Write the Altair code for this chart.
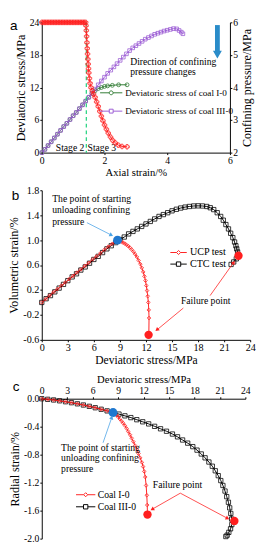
import altair as alt
import pandas as pd
import numpy as np

SERIF = "Liberation Serif"
SANS = "Liberation Sans"

RED = "#ff1f1f"
GREEN = "#2f7a32"
PURPLE = "#9b5bd4"
BLUE = "#1f78cf"
ARROWBLUE = "#2a8cc9"
LIGHTBLUE = "#4aa3e6"
STAGEGREEN = "#19d17a"

# ------------------------------------------------------------------ data (a)
a_i0_strain = [0.0, 0.1, 0.2, 0.3, 0.4, 0.5, 0.6, 0.7, 0.8, 0.9, 1.0, 1.1, 1.2, 1.3, 1.4,
               1.5, 1.6, 1.7, 1.8, 1.9, 2.0, 2.1, 2.25, 2.45, 2.72]
a_i0_stress = [0.0, 0.6, 1.3, 2.0, 2.7, 3.4, 4.1, 4.8, 5.4, 6.1, 6.8, 7.4, 8.1, 8.8, 9.5,
               10.2, 10.9, 11.4, 11.8, 12.0, 12.2, 12.3, 12.4, 12.5, 12.5]
a_iii0_strain = [0.0, 0.1, 0.2, 0.3, 0.4, 0.5, 0.6, 0.7, 0.8, 0.9, 1.0, 1.1, 1.2, 1.3, 1.4,
                 1.5, 1.6, 1.7, 1.8, 1.9, 2.0, 2.1, 2.2, 2.3, 2.4,
                 2.5, 2.6, 2.7, 2.8, 2.9, 3.0, 3.1, 3.2, 3.3, 3.4,
                 3.5, 3.6, 3.7, 3.8, 3.9, 4.0, 4.1, 4.2, 4.3, 4.38, 4.45, 4.5]
a_iii0_stress = [0.0, 0.6, 1.3, 2.0, 2.7, 3.4, 4.1, 4.8, 5.4, 6.1, 6.8, 7.4, 8.1, 8.8, 9.5,
                 10.2, 10.9, 11.7, 12.5, 13.2, 13.9, 14.6, 15.2, 15.8, 16.4,
                 17.0, 17.6, 18.2, 18.8, 19.3, 19.7, 20.1, 20.5, 20.9, 21.2,
                 21.5, 21.8, 22.0, 22.2, 22.4, 22.55, 22.7, 22.85, 22.8, 22.5, 22.2, 21.9]
a_cp_strain = [0.0, 0.05, 0.1, 0.15, 0.2, 0.25, 0.3, 0.35, 0.4, 0.45, 0.5, 0.55, 0.6, 0.65,
               0.7, 0.75, 0.8, 0.85, 0.9, 0.95, 1.0, 1.05, 1.1, 1.15, 1.2, 1.25, 1.3, 1.35,
               1.4, 1.41, 1.42, 1.43, 1.44, 1.45, 1.46, 1.47, 1.48, 1.49, 1.5, 1.52, 1.54,
               1.57, 1.61, 1.65, 1.7, 1.75, 1.8, 1.85, 1.9, 1.95, 2.0, 2.06, 2.12, 2.19,
               2.26, 2.34, 2.44, 2.56, 2.72]
a_cp_pressure = [6.0] * 28 + [6.0, 5.9, 5.75, 5.57, 5.38, 5.2, 5.03, 4.87, 4.72, 4.58, 4.45,
                              4.28, 4.13, 4.0, 3.9, 3.8, 3.7, 3.56, 3.42, 3.27, 3.12, 2.98,
                              2.85, 2.72, 2.6, 2.48, 2.38, 2.3, 2.23, 2.19, 2.18]
a_stage_strain = [1.42]
a_note_x = [2.82, 2.82]
a_note_y = [16.65, 14.75]
a_note_text = ["Direction of confining", "pressure changes"]
a_arrow_x = [5.6]
a_arrow_top = [23.5]
a_arrow_neck = [18.7]
a_arrow_head = [18.05]

# ------------------------------------------------------------------ data (b)
b_ucp_stress = [0.0, 0.45, 0.9, 1.35, 1.8, 2.25, 2.7, 3.15, 3.6, 4.05, 4.5, 4.95, 5.4, 5.85,
                6.3, 6.75, 7.2, 7.65, 8.1, 8.5, 8.75, 8.95, 9.15, 9.35, 9.55, 9.75, 9.95,
                10.15, 10.35, 10.55, 10.75, 10.95, 11.15, 11.35, 11.52, 11.68, 11.82, 11.94,
                12.04, 12.12, 12.2, 12.27, 12.32, 12.35, 12.33]
b_ucp_vol = [0.0, 0.055, 0.11, 0.165, 0.215, 0.27, 0.32, 0.375, 0.425, 0.48, 0.53, 0.585,
             0.635, 0.69, 0.74, 0.79, 0.845, 0.895, 0.94, 0.975, 1.0, 0.99, 0.975, 0.96, 0.945,
             0.925, 0.905, 0.88, 0.85, 0.815, 0.775, 0.73, 0.675, 0.615, 0.555, 0.49, 0.42,
             0.35, 0.27, 0.19, 0.1, 0.0, -0.12, -0.25, -0.5]
b_ctc_stress = [0.0, 0.5, 1.0, 1.5, 2.0, 2.5, 3.0, 3.5, 4.0, 4.5, 5.0, 5.5, 6.0, 6.5, 7.0, 7.5,
                8.0, 8.5, 9.0, 9.5, 10.0, 10.5, 11.0, 11.5, 12.0, 12.5, 13.0, 13.5, 14.0, 14.5,
                15.0, 15.5, 16.0, 16.5, 17.0, 17.5, 18.0, 18.5, 19.0, 19.4, 19.8, 20.2, 20.6,
                20.9, 21.2, 21.5, 21.75, 22.0, 22.2, 22.35, 22.45, 22.55, 22.6, 22.4, 22.1, 21.8]
b_ctc_vol = [0.0, 0.06, 0.11, 0.17, 0.23, 0.29, 0.35, 0.41, 0.46, 0.52, 0.57, 0.63, 0.69,
             0.74, 0.8, 0.86, 0.91, 0.96, 1.01, 1.05, 1.1, 1.14, 1.18, 1.22, 1.26, 1.3, 1.34,
             1.38, 1.41, 1.44, 1.47, 1.495, 1.515, 1.53, 1.54, 1.548, 1.55, 1.548, 1.54,
             1.52, 1.49, 1.44, 1.38, 1.32, 1.25, 1.18, 1.11, 1.04, 0.97, 0.91, 0.86, 0.81,
             0.76, 0.7, 0.65, 0.61]
b_fail_x = [12.3, 22.65]
b_fail_y = [-0.52, 0.75]
b_start_x = [8.72]
b_start_y = [1.0]
b_note_x = [1.2, 1.2, 1.2]
b_note_y = [1.657, 1.477, 1.297]
b_note_text = ["The point of starting", "unloading confining", "pressure"]
b_fail_label = ["Failure point"]
b_fail_label_x = [18.87]
b_fail_label_y = [0.015]
b_blue_arrow = ([5.2], [1.28], [8.31], [1.06])
b_red_arrows = ([16.3, 19.38], [-0.09, 0.11], [13.0, 22.29], [-0.47, 0.68])

# ------------------------------------------------------------------ data (c)
c_i0_stress = [0.0, 0.7, 1.4, 2.1, 2.8, 3.5, 4.2, 4.9, 5.6, 6.3, 7.0, 7.7, 8.4, 8.6, 8.8, 9.0,
               9.2, 9.4, 9.6, 9.8, 10.0, 10.2, 10.4, 10.6, 10.8, 11.0, 11.2, 11.4, 11.6, 11.8,
               11.95, 12.08, 12.2, 12.3, 12.38, 12.43, 12.46]
c_i0_radial = [0.0, -0.009, -0.018, -0.03, -0.043, -0.057, -0.073, -0.09, -0.109, -0.129,
               -0.151, -0.174, -0.198, -0.215, -0.235, -0.26, -0.29, -0.32, -0.35, -0.385,
               -0.425, -0.47, -0.515, -0.565, -0.615, -0.67, -0.725, -0.785, -0.845, -0.91,
               -0.97, -1.04, -1.12, -1.24, -1.38, -1.52, -1.656]
c_iii0_stress = [0.0, 0.7, 1.4, 2.1, 2.8, 3.5, 4.2, 4.9, 5.6, 6.3, 7.0, 7.7, 8.4, 9.1, 9.8,
                 10.5, 11.2, 11.9, 12.6, 13.3, 14.0, 14.7, 15.4, 16.0, 16.6, 17.2, 17.8, 18.3,
                 18.8, 19.25, 19.7, 20.1, 20.45, 20.8, 21.1, 21.35, 21.6, 21.8, 22.0, 22.15,
                 22.28, 22.38, 22.4, 22.25, 22.05, 21.85, 21.7]
c_iii0_radial = [0.0, -0.009, -0.018, -0.03, -0.043, -0.057, -0.073, -0.09, -0.109, -0.129,
                 -0.151, -0.174, -0.198, -0.22, -0.245, -0.27, -0.3, -0.33, -0.36, -0.395,
                 -0.43, -0.465, -0.505, -0.545, -0.59, -0.635, -0.685, -0.735, -0.79, -0.845,
                 -0.905, -0.965, -1.03, -1.1, -1.17, -1.24, -1.32, -1.4, -1.48, -1.56, -1.64,
                 -1.72, -1.8, -1.86, -1.91, -1.95, -1.97]
c_fail_x = [12.46, 22.7]
c_fail_y = [-1.656, -1.747]
c_start_x = [8.4]
c_start_y = [-0.198]
c_note_x = [2.28, 2.28, 2.28]
c_note_y = [-0.70, -0.855, -1.0]
c_note_text = ["The point of starting", "unloading confining", "pressure"]
c_fail_label = ["Failure point"]
c_fail_label_x = [16.0]
c_fail_label_y = [-1.24]
c_blue_arrow = ([7.22], [-0.63], [8.36], [-0.23])
c_red_arrows = ([16.33, 16.33], [-1.35, -1.35], [12.72, 22.2], [-1.6, -1.73])

# ------------------------------------------------------------------ sizes
WA, HA = 195, 135
WB, HB = 216, 155
WC, HC = 211, 145
XA, YA, YA2 = [0, 6], [0, 24], [2, 6]
XB, YB = [0, 24], [-0.6, 1.8]
XC, YC = [0, 24], [-2.0, 0.0]

HYPHEN = "(datum.value < 0 ? '-' : '') + format(abs(datum.value), '.1f')"


def frame(x, y, **extra):
    d = {"x": x, "y": y}
    d.update(extra)
    df = pd.DataFrame(d)
    df["i"] = range(len(df))
    return df


def make_xy(xdom, ydom, xaxis, yaxis):
    def X(f):
        return alt.X(f + ":Q", scale=alt.Scale(domain=xdom, nice=False, zero=False), axis=xaxis)

    def Y(f):
        return alt.Y(f + ":Q", scale=alt.Scale(domain=ydom, nice=False, zero=False), axis=yaxis)
    return X, Y


def sym_path(kind, half_u, m_u):
    if kind == "circle":
        mk = f"M{-m_u},0A{m_u},{m_u},0,1,1,{m_u},0A{m_u},{m_u},0,1,1,{-m_u},0Z"
        g = m_u
    elif kind == "square":
        mk = f"M{-m_u},{-m_u}H{m_u}V{m_u}H{-m_u}Z"
        g = m_u
    else:
        g = m_u * 1.2
        mk = f"M0,{-g}L{g},0L0,{g}L{-g},0Z"
    return f"M{-half_u},0H{-g}M{g},0H{half_u}" + mk


def legend(cx, cy, label_start, half_px, kind, marker_px, fs):
    k = 4.0
    c_off = 4.5
    return alt.Legend(title=None, orient="none", legendX=cx - c_off, legendY=cy - fs / 2,
                      symbolType=sym_path(kind, half_px / k, marker_px / 2 / k),
                      symbolSize=64, symbolStrokeWidth=1, symbolFillColor="white",
                      labelFont=SERIF, labelFontSize=fs, labelColor="black",
                      labelOffset=label_start - cx - c_off, padding=0, labelLimit=400)


def series(df, X, Y, chan, enc, shape, size, sw_pt=0.8, sw_line=1.0):
    line = alt.Chart(df).mark_line(strokeWidth=sw_line).encode(
        x=X("x"), y=Y("y"), order=alt.Order("i:Q"), **{chan: enc})
    pts = alt.Chart(df).mark_point(shape=shape, size=size, filled=False, strokeWidth=sw_pt,
                                   opacity=1).encode(x=X("x"), y=Y("y"), **{chan: enc})
    return [line, pts]


def arrows(spec, color, X, Y, xdom, ydom, W, H, head=6.0, sw=0.8):
    x0, y0, x1, y1 = spec
    sx = W / (xdom[1] - xdom[0])
    sy = H / (ydom[1] - ydom[0])
    rr, hh = [], []
    for a, b, c, d in zip(x0, y0, x1, y1):
        dx, dy = (c - a) * sx, -(d - b) * sy
        L = float(np.hypot(dx, dy))
        ux, uy = dx / L, dy / L
        ang = float(np.degrees(np.arctan2(ux, -uy)) % 360)
        rr.append({"x": a, "y": b, "x2": c - ux * head * 0.6 / sx, "y2": d + uy * head * 0.6 / sy})
        hh.append({"x": c - ux * head * 0.5 / sx, "y": d + uy * head * 0.5 / sy, "ang": ang})
    rule = alt.Chart(pd.DataFrame(rr)).mark_rule(color=color, strokeWidth=sw).encode(
        x=X("x"), y=Y("y"), x2="x2:Q", y2="y2:Q")
    tip = alt.Chart(pd.DataFrame(hh)).mark_point(shape="triangle-up", filled=True, size=20,
                                                 color=color, opacity=1).encode(
        x=X("x"), y=Y("y"), angle=alt.Angle("ang:Q", scale=None))
    return [rule, tip]


def texts(x, y, t, X, Y, align="left", fs=10):
    df = pd.DataFrame({"x": x, "y": y, "t": t})
    return alt.Chart(df).mark_text(font=SERIF, fontSize=fs, align=align, baseline="middle",
                                   color="black").encode(x=X("x"), y=Y("y"), text="t:N")


def letter(ch, px, py):
    return alt.Chart(pd.DataFrame({"t": [ch]})).mark_text(
        font=SANS, fontSize=14, align="left", baseline="middle", color="black").encode(
        x=alt.value(px), y=alt.value(py), text="t:N")


def ax(title, values, tfs=11, lfs=10, orient=None, expr=None, tpad=2, angle=None, tbase=None):
    kw = dict(title=title, values=values, titleFontSize=tfs, labelFontSize=lfs,
              labelFont=SERIF, titleFont=SERIF, titleFontWeight="normal",
              labelFlush=False, titlePadding=tpad, labelPadding=1, tickSize=2)
    if orient:
        kw["orient"] = orient
    if expr:
        kw["labelExpr"] = expr
    if angle is not None:
        kw["titleAngle"] = angle
    if tbase:
        kw["titleBaseline"] = tbase
    return alt.Axis(**kw)


# ------------------------------------------------------------------ panel a
XAf, YAf = make_xy(XA, YA, ax("Axial strain/%", [0, 2, 4, 6]),
                   ax("Deviatoric stress/MPa", [0, 6, 12, 18, 24], tfs=12.5))


def YA2f(f):
    return alt.Y(f + ":Q", scale=alt.Scale(domain=YA2, nice=False, zero=False),
                 axis=ax("Confining pressure/MPa", [2, 3, 4, 5, 6], tfs=12.5, orient="right",
                         angle=270, tpad=3, tbase="top"))


a_i0 = frame(a_i0_strain, a_i0_stress, s="Deviatoric stress of coal I-0")
a_iii0 = frame(a_iii0_strain, a_iii0_stress, s="Deviatoric stress of coal III-0")
a_cp = frame(a_cp_strain, a_cp_pressure)

a_col = alt.Color("s:N", scale=alt.Scale(domain=["Deviatoric stress of coal I-0"], range=[GREEN]),
                  legend=legend(71.7, 73, 86, 11.5, "circle", 4, 9.5))
a_str = alt.Stroke("s:N", scale=alt.Scale(domain=["Deviatoric stress of coal III-0"], range=[PURPLE]),
                   legend=legend(71.7, 92, 86, 11.5, "square", 4, 9.5))

a_left = []
a_left += series(a_i0, XAf, YAf, "color", a_col, "circle", 16)
a_left += series(a_iii0, XAf, YAf, "stroke", a_str, "square", 14)
a_left.append(alt.Chart(pd.DataFrame({"x": a_stage_strain})).mark_rule(
    color=STAGEGREEN, strokeDash=[4, 3], strokeWidth=1.2).encode(x=XAf("x")))
a_left.append(texts(a_note_x, a_note_y, a_note_text, XAf, YAf))
a_left.append(texts([1.36], [0.8], ["Stage 2"], XAf, YAf, align="right"))
a_left.append(texts([1.46], [0.8], ["Stage 3"], XAf, YAf, align="left"))
a_left.append(alt.Chart(pd.DataFrame({"x": a_arrow_x, "y": a_arrow_top, "y2": a_arrow_neck})).mark_rule(
    color=ARROWBLUE, strokeWidth=5, strokeCap="butt").encode(x=XAf("x"), y=YAf("y"), y2="y2:Q"))
a_left.append(alt.Chart(pd.DataFrame({"x": a_arrow_x, "y": a_arrow_head})).mark_point(
    shape="triangle-down", filled=True, size=85, color=ARROWBLUE, opacity=1).encode(
    x=XAf("x"), y=YAf("y")))
a_left.append(letter("a", -33, 4))

a_right = [
    alt.Chart(a_cp).mark_line(color=RED, strokeWidth=1).encode(
        x=XAf("x"), y=YA2f("y"), order=alt.Order("i:Q")),
    alt.Chart(a_cp).mark_point(shape="cross", filled=False, size=22, strokeWidth=0.8,
                               color=RED, opacity=1).encode(x=XAf("x"), y=YA2f("y")),
]
panel_a = alt.layer(alt.layer(*a_left), alt.layer(*a_right)).resolve_scale(
    y="independent").properties(width=WA, height=HA)

# ------------------------------------------------------------------ panel b
XBf, YBf = make_xy(XB, YB, ax("Deviatoric stress/MPa", list(range(0, 25, 3)), tfs=12, lfs=10.5),
                   ax("Volumetric strain/%", [-0.6, -0.2, 0.2, 0.6, 1.0, 1.4, 1.8], tfs=12.5,
                      lfs=10.5, expr=HYPHEN))
b_ucp = frame(b_ucp_stress, b_ucp_vol, s="UCP test")
b_ctc = frame(b_ctc_stress, b_ctc_vol, s="CTC test")
b_col = alt.Color("s:N", scale=alt.Scale(domain=["UCP test"], range=[RED]),
                  legend=legend(141, 64.5, 152, 8.5, "diamond", 3.5, 10.5))
b_str = alt.Stroke("s:N", scale=alt.Scale(domain=["CTC test"], range=["black"]),
                   legend=legend(141, 76.5, 152, 8.5, "square", 4.5, 10.5))
b_layers = []
b_layers += series(b_ctc, XBf, YBf, "stroke", b_str, "square", 20)
b_layers += series(b_ucp, XBf, YBf, "color", b_col, "diamond", 14)
b_layers.append(alt.Chart(frame(b_fail_x, b_fail_y)).mark_point(
    shape="circle", filled=True, size=75, color=RED, opacity=1).encode(x=XBf("x"), y=YBf("y")))
b_layers.append(alt.Chart(frame(b_start_x, b_start_y)).mark_point(
    shape="circle", filled=True, size=85, color=BLUE, opacity=1).encode(x=XBf("x"), y=YBf("y")))
b_layers.append(texts(b_note_x, b_note_y, b_note_text, XBf, YBf))
b_layers.append(texts(b_fail_label_x, b_fail_label_y, b_fail_label, XBf, YBf, align="center"))
b_layers += arrows(b_blue_arrow, LIGHTBLUE, XBf, YBf, XB, YB, WB, HB)
b_layers += arrows(b_red_arrows, RED, XBf, YBf, XB, YB, WB, HB)
b_layers.append(letter("b", -31, 6))
panel_b = alt.layer(*b_layers).properties(width=WB, height=HB)

# ------------------------------------------------------------------ panel c
XCf, YCf = make_xy(XC, YC, ax("Deviatoric stress/MPa", list(range(0, 25, 3)), orient="top"),
                   ax("Radial strain/%", [0.0, -0.4, -0.8, -1.2, -1.6, -2.0], tfs=12.5,
                      expr=HYPHEN))
c_i0 = frame(c_i0_stress, c_i0_radial, s="Coal I-0")
c_iii0 = frame(c_iii0_stress, c_iii0_radial, s="Coal III-0")
c_col = alt.Color("s:N", scale=alt.Scale(domain=["Coal I-0"], range=[RED]),
                  legend=legend(45, 99.5, 57, 10, "diamond", 3.5, 10))
c_str = alt.Stroke("s:N", scale=alt.Scale(domain=["Coal III-0"], range=["black"]),
                   legend=legend(45, 112, 57, 10, "square", 4.5, 10))
c_layers = []
c_layers += series(c_iii0, XCf, YCf, "stroke", c_str, "square", 20)
c_layers += series(c_i0, XCf, YCf, "color", c_col, "diamond", 14)
c_layers.append(alt.Chart(frame(c_fail_x, c_fail_y)).mark_point(
    shape="circle", filled=True, size=75, color=RED, opacity=1).encode(x=XCf("x"), y=YCf("y")))
c_layers.append(alt.Chart(frame(c_start_x, c_start_y)).mark_point(
    shape="circle", filled=True, size=85, color=BLUE, opacity=1).encode(x=XCf("x"), y=YCf("y")))
c_layers.append(texts(c_note_x, c_note_y, c_note_text, XCf, YCf))
c_layers.append(texts(c_fail_label_x, c_fail_label_y, c_fail_label, XCf, YCf, align="center"))
c_layers += arrows(c_blue_arrow, LIGHTBLUE, XCf, YCf, XC, YC, WC, HC)
c_layers += arrows(c_red_arrows, RED, XCf, YCf, XC, YC, WC, HC)
c_layers.append(letter("c", -30, -12))
panel_c = alt.layer(*c_layers).properties(width=WC, height=HC)

# ------------------------------------------------------------------ assemble
chart = alt.vconcat(panel_a, panel_b, panel_c, spacing=8).resolve_scale(
    color="independent", stroke="independent").properties(
    padding={"left": 0, "top": 0, "right": 0, "bottom": 0}
).configure(font=SERIF).configure_view(stroke=None).configure_axis(
    labelFont=SERIF, titleFont=SERIF, titleFontWeight="normal", labelColor="black",
    titleColor="black", domainColor="black", tickColor="black", grid=False
)

chart.save("out.html", embed_options={"renderer": "svg", "actions": False})
